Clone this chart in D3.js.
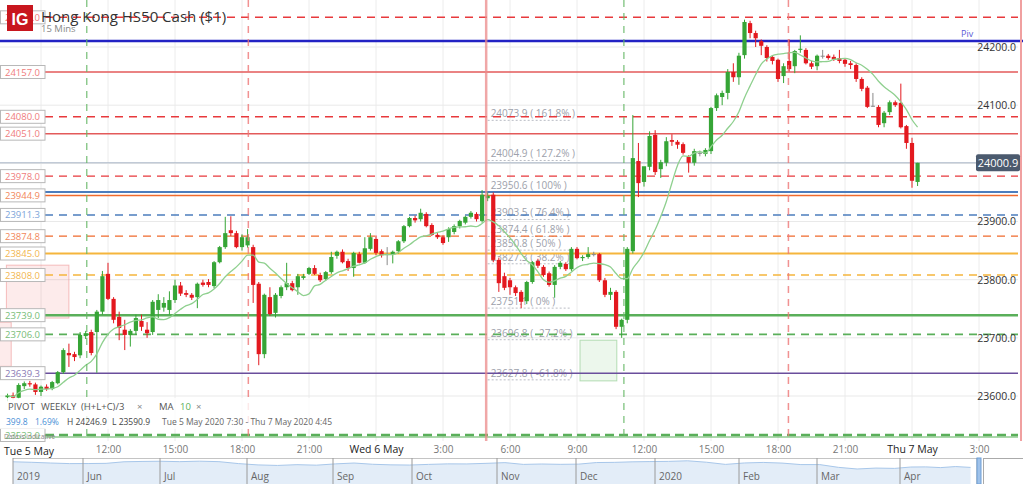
<!DOCTYPE html>
<html>
<head>
<meta charset="utf-8">
<script src="https://cdn.jsdelivr.net/npm/d3@7/dist/d3.min.js"></script>
<style>
  body { margin: 0; background: #fff; font-family: "Open Sans", "Noto Sans", sans-serif; }
  svg { display: block; }
</style>
</head>
<body>
<svg id="chart" width="1023" height="484"></svg>
<script>
// first 15 min bar of the view
var firstBar = new Date(2020, 4, 5, 7, 30);
var barMinutes = 15;

// open, high, low, close for each 15 min bar
var ohlc = [
  [23598,23604,23591,23601],[23601,23606,23594,23597],[23597,23622,23595,23619],[23617,23625,23612,23622],
  [23622,23626,23616,23620],[23620,23623,23602,23607],[23607,23618,23600,23616],[23616,23620,23609,23612],
  [23612,23626,23610,23624],[23622,23643,23620,23641],[23641,23682,23638,23679],[23674,23690,23650,23670],
  [23672,23676,23660,23667],[23670,23710,23665,23705],[23703,23712,23698,23708],[23710,23714,23670,23674],
  [23710,23748,23640,23745],[23745,23815,23740,23806],[23810,23829,23765,23767],[23767,23770,23725,23731],
  [23736,23745,23696,23717],[23714,23731,23679,23705],[23705,23715,23685,23712],[23712,23740,23705,23734],
  [23729,23740,23712,23719],[23714,23727,23700,23708],[23710,23765,23705,23762],[23748,23775,23734,23765],
  [23752,23770,23745,23760],[23748,23780,23740,23765],[23765,23800,23760,23790],[23790,23796,23772,23776],
  [23777,23782,23770,23774],[23774,23777,23765,23769],[23770,23795,23751,23793],[23795,23800,23788,23791],
  [23796,23801,23787,23791],[23789,23832,23785,23830],[23830,23858,23828,23856],[23856,23908,23853,23880],
  [23885,23909,23875,23880],[23880,23884,23854,23856],[23856,23878,23850,23873],[23859,23887,23855,23873],
  [23856,23860,23760,23791],[23793,23796,23653,23672],[23672,23776,23665,23774],[23770,23787,23738,23741],
  [23743,23777,23735,23774],[23772,23790,23768,23787],[23787,23829,23782,23794],[23794,23798,23780,23782],
  [23787,23810,23774,23806],[23803,23810,23800,23806],[23810,23822,23808,23820],[23820,23825,23808,23810],
  [23808,23812,23796,23799],[23801,23815,23798,23813],[23813,23848,23810,23839],[23841,23850,23836,23848],
  [23848,23852,23828,23830],[23832,23836,23815,23820],[23820,23848,23805,23846],[23844,23848,23828,23829],
  [23829,23873,23827,23854],[23853,23880,23850,23873],[23870,23876,23842,23846],[23849,23852,23838,23842],
  [23844,23856,23825,23844],[23844,23850,23828,23848],[23849,23868,23845,23866],[23866,23894,23863,23892],
  [23892,23908,23890,23906],[23906,23910,23898,23902],[23904,23922,23900,23915],[23913,23916,23890,23892],
  [23894,23897,23875,23877],[23877,23880,23870,23873],[23873,23876,23860,23863],[23873,23890,23865,23887],
  [23882,23895,23878,23892],[23892,23903,23888,23901],[23898,23910,23895,23908],[23908,23918,23905,23915],
  [23913,23916,23900,23904],[23901,23954,23898,23946],[23940,23950,23935,23944],[23946,23950,23830,23834],
  [23834,23838,23779,23794],[23806,23812,23782,23786],[23799,23803,23774,23787],[23787,23790,23772,23777],
  [23779,23782,23751,23762],[23763,23798,23758,23796],[23796,23832,23793,23830],[23832,23836,23820,23824],
  [23822,23825,23805,23808],[23811,23814,23788,23791],[23791,23825,23769,23822],[23822,23832,23818,23829],
  [23827,23830,23815,23818],[23818,23856,23815,23853],[23853,23856,23835,23837],[23837,23842,23832,23839],
  [23839,23856,23836,23844],[23844,23848,23840,23844],[23844,23846,23796,23799],[23799,23803,23770,23774],
  [23774,23786,23765,23779],[23779,23782,23715,23719],[23719,23733,23700,23731],[23731,23856,23725,23853],
  [23849,24083,23845,24009],[24004,24035,23942,23966],[23968,23985,23960,23995],[23994,24055,23988,24047],
  [24049,24057,23980,23985],[23990,24006,23975,24002],[24001,24045,23995,24038],[24040,24050,24030,24037],
  [24037,24040,24025,24032],[24033,24036,24015,24018],[24011,24014,23984,24001],[24001,24025,23996,24021],
  [24018,24022,24012,24018],[24016,24026,24012,24023],[24021,24097,24016,24095],[24095,24120,24090,24117],
  [24114,24125,24100,24121],[24121,24162,24110,24157],[24157,24172,24140,24148],[24148,24190,24135,24185],
  [24186,24247,24180,24243],[24241,24245,24215,24224],[24224,24228,24200,24215],[24210,24213,24186,24202],
  [24200,24203,24175,24181],[24183,24186,24170,24176],[24178,24180,24140,24145],[24150,24172,24138,24167],
  [24176,24213,24158,24162],[24167,24195,24155,24193],[24195,24220,24190,24197],[24195,24198,24170,24172],
  [24172,24176,24162,24166],[24167,24187,24160,24185],[24185,24195,24180,24185],[24185,24188,24178,24181],
  [24183,24187,24176,24179],[24181,24195,24172,24176],[24178,24180,24166,24171],[24172,24176,24162,24169],
  [24169,24172,24140,24145],[24145,24148,24124,24128],[24130,24133,24095,24097],[24099,24121,24097,24099],
  [24097,24100,24062,24066],[24069,24090,24062,24087],[24088,24108,24083,24105],[24105,24108,24097,24100],
  [24104,24137,24060,24062],[24064,24066,24025,24035],[24035,24044,23958,23970],[23968,24001,23961,24000.9]
];
var maPeriod = 10;

// support / resistance levels drawn across the chart
var levelValues = [24251.0, 24157.0, 24080.0, 24051.0, 23978.0, 23950.6, 23944.9, 23911.3,
                   23874.8, 23845.0, 23808.0, 23739.0, 23706.0, 23639.3, 23533.0];
var levelLabels = ['24251.0', '24157.0', '24080.0', '24051.0', '23978.0', '', '23944.9', '23911.3',
                   '23874.8', '23845.0', '23808.0', '23739.0', '23706.0', '23639.3', '23533.0'];
var pivotValue = 24210.3;
var lastPrice = 24000.9;

// fibonacci retracement
var fibValues = [24073.9, 24004.9, 23950.6, 23903.5, 23874.4, 23850.8, 23827.3, 23751.1, 23696.8, 23627.8];
var fibPercents = ['161.8%', '127.2%', '100%', '76.4%', '61.8%', '50%', '38.2%', '0%', '-27.2%', '-61.8%'];
var fibFrom = new Date(2020, 4, 6, 5, 0);
var fibTo = new Date(2020, 4, 6, 8, 45);

// shaded boxes [start, end, top price, bottom price]
var redZones = [
  [new Date(2020, 4, 5, 7, 27), new Date(2020, 4, 5, 10, 15), 23825, 23734],
  [new Date(2020, 4, 5, 7, 0), new Date(2020, 4, 5, 7, 40), 23727, 23651]
];
var greenZones = [
  [new Date(2020, 4, 6, 9, 8), new Date(2020, 4, 6, 10, 47), 23696, 23626]
];

// vertical markers
var greenMarks = [new Date(2020, 4, 5, 11, 3), new Date(2020, 4, 6, 11, 6)];
var redDashMarks = [new Date(2020, 4, 5, 18, 17), new Date(2020, 4, 6, 18, 28)];
var redSolidMarks = [new Date(2020, 4, 6, 4, 56)];

var yTicks = [23600, 23700, 23800, 23900, 24000, 24100, 24200];
var xTickTimes = [
  new Date(2020, 4, 5, 12), new Date(2020, 4, 5, 15), new Date(2020, 4, 5, 18), new Date(2020, 4, 5, 21),
  new Date(2020, 4, 6, 0), new Date(2020, 4, 6, 3), new Date(2020, 4, 6, 6), new Date(2020, 4, 6, 9),
  new Date(2020, 4, 6, 12), new Date(2020, 4, 6, 15), new Date(2020, 4, 6, 18), new Date(2020, 4, 6, 21),
  new Date(2020, 4, 7, 0), new Date(2020, 4, 7, 3)
];
var xTickLabels = ['12:00', '15:00', '18:00', '21:00', 'Wed 6 May', '3:00', '6:00', '9:00',
                   '12:00', '15:00', '18:00', '21:00', 'Thu 7 May', '3:00'];
var firstDayLabel = 'Tue 5 May';

// navigator: weekly closes, one year back
var navStart = new Date(2019, 4, 6);
var navValues = [28300, 27900, 27350, 26900, 26950, 27100, 28300, 28550, 28700, 28400, 28750, 28400,
                 26900, 25900, 25500, 26100, 25700, 26700, 27350, 26400, 25950, 25800, 26300, 26700,
                 26650, 27100, 27650, 26300, 26600, 26350, 26500, 27700, 27850, 28250, 28450, 28600,
                 29050, 27950, 26300, 27400, 27800, 27300, 26150, 26150, 24050, 22800, 23500, 23250,
                 24300, 24400, 23850, 24650, 24000];
var navMonths = [new Date(2019, 4, 6), new Date(2019, 5, 1), new Date(2019, 6, 1), new Date(2019, 7, 1),
                 new Date(2019, 8, 1), new Date(2019, 9, 1), new Date(2019, 10, 1), new Date(2019, 11, 1),
                 new Date(2020, 0, 1), new Date(2020, 1, 1), new Date(2020, 2, 1), new Date(2020, 3, 1),
                 new Date(2020, 4, 7)];
var navMonthLabels = ['2019', 'Jun', 'Jul', 'Aug', 'Sep', 'Oct', 'Nov', 'Dec', '2020', 'Feb', 'Mar', 'Apr'];

var UP = '#36a536', DOWN = '#e3191f', FLAT = '#8a8a8a';
var RED = '#e8393c', RED_SOLID = '#e35a5a', BLUE = '#4c7dbd', ORANGE = '#f06a2c',
    YEL = '#f5b53c', GREEN = '#5aaf5a', PURPLE = '#6a4e9c';
// stroke, dash, width, label text colour for each level
var levelStyle = [
  [RED, '8,6', 1.4, '#ef7c7c'], [RED_SOLID, null, 1.5, '#ef7c7c'], [RED, '8,6', 1.4, '#ef7c7c'],
  [RED_SOLID, null, 1.5, '#ef7c7c'], [RED, '8,6', 1.4, '#ef7c7c'], [BLUE, null, 2, '#7ba3d8'],
  [ORANGE, null, 1.5, '#f2875a'], [BLUE, '8,6', 1.4, '#7ba3d8'], [ORANGE, '8,6', 1.4, '#f2875a'],
  [YEL, null, 2, '#f2b650'], [YEL, '8,6', 1.6, '#f2b650'], [GREEN, null, 2.5, '#78bd78'],
  [GREEN, '8,6', 1.6, '#78bd78'], [PURPLE, null, 1.5, '#8a7ab4'], [GREEN, '9,5', 2.6, '#78bd78']
];

var plotTop = 0, plotBottom = 441;
var svg = d3.select('#chart');

var xScale = d3.scaleTime()
  .domain([new Date(2020, 4, 5, 12), new Date(2020, 4, 7, 0)])
  .range([108, 912]);
var yScale = d3.scaleLinear()
  .domain([23533, 24157])
  .range([435, 72]);

var bars = ohlc.map(function(d, i) {
  return { t: new Date(firstBar.getTime() + i * barMinutes * 60000), o: d[0], h: d[1], l: d[2], c: d[3] };
});
bars.forEach(function(b, i) {
  b.ma = d3.mean(bars.slice(Math.max(0, i - maPeriod + 1), i + 1), function(r) { return r.c; });
});

// grid
var gridTimes = d3.timeHour.every(3).range(new Date(2020, 4, 5, 9), new Date(2020, 4, 7, 4));
svg.append('g').selectAll('line').data(gridTimes).enter().append('line')
  .attr('x1', function(d) { return xScale(d); }).attr('x2', function(d) { return xScale(d); })
  .attr('y1', plotTop).attr('y2', plotBottom)
  .attr('stroke', '#ececec').attr('stroke-width', 1);
svg.append('g').selectAll('line').data(yTicks).enter().append('line')
  .attr('x1', 0).attr('x2', 1018)
  .attr('y1', function(d) { return yScale(d); }).attr('y2', function(d) { return yScale(d); })
  .attr('stroke', '#e9e9e9').attr('stroke-width', 1);

// shaded boxes
function drawZones(list, fill, stroke) {
  svg.append('g').selectAll('rect').data(list).enter().append('rect')
    .attr('x', function(d) { return xScale(d[0]); })
    .attr('width', function(d) { return xScale(d[1]) - xScale(d[0]); })
    .attr('y', function(d) { return yScale(d[2]); })
    .attr('height', function(d) { return yScale(d[3]) - yScale(d[2]); })
    .attr('fill', fill).attr('stroke', stroke).attr('stroke-width', 1);
}
drawZones(redZones, 'rgba(240,110,110,0.14)', 'rgba(235,120,120,0.45)');
drawZones(greenZones, 'rgba(110,190,110,0.13)', 'rgba(100,185,100,0.45)');

// last price line
svg.append('line')
  .attr('x1', 0).attr('x2', 1018)
  .attr('y1', yScale(lastPrice)).attr('y2', yScale(lastPrice))
  .attr('stroke', '#a9b5c6').attr('stroke-width', 1);

// fib levels
var fibG = svg.append('g');
fibG.selectAll('line').data(fibValues).enter().append('line')
  .attr('x1', xScale(fibFrom)).attr('x2', xScale(fibTo))
  .attr('y1', function(d) { return yScale(d); }).attr('y2', function(d) { return yScale(d); })
  .attr('stroke', '#b9bcc4').attr('stroke-width', 1).attr('stroke-dasharray', '2,2');
fibG.selectAll('text').data(fibValues).enter().append('text')
  .attr('x', xScale(fibFrom) + 3)
  .attr('y', function(d) { return yScale(d) - 3; })
  .attr('font-size', '10px').attr('fill', '#9da1ab')
  .text(function(d, i) { return d.toFixed(1) + ' ( ' + fibPercents[i] + ' )'; });

// level lines
var levelG = svg.append('g');
levelG.selectAll('line').data(levelValues).enter().append('line')
  .attr('x1', 45).attr('x2', 1018)
  .attr('y1', function(d) { return yScale(d); }).attr('y2', function(d) { return yScale(d); })
  .attr('stroke', function(d, i) { return levelStyle[i][0]; })
  .attr('stroke-width', function(d, i) { return levelStyle[i][2]; })
  .attr('stroke-dasharray', function(d, i) { return levelStyle[i][1]; });
// thin solid line under the lowest dashed level
svg.append('line')
  .attr('x1', 45).attr('x2', 1018)
  .attr('y1', yScale(23533) + 2).attr('y2', yScale(23533) + 2)
  .attr('stroke', GREEN).attr('stroke-width', 1);

// pivot
svg.append('line')
  .attr('x1', 0).attr('x2', 1023)
  .attr('y1', yScale(pivotValue)).attr('y2', yScale(pivotValue))
  .attr('stroke', '#2222c4').attr('stroke-width', 2.5);
svg.append('text')
  .attr('x', 961).attr('y', yScale(pivotValue) - 4)
  .attr('font-size', '9px').attr('fill', '#5a5ad6')
  .text('Piv');

// candles
var candleG = svg.append('g');
function barColor(b) { return b.c > b.o ? UP : (b.c < b.o ? DOWN : FLAT); }
candleG.selectAll('line').data(bars).enter().append('line')
  .attr('x1', function(b) { return xScale(b.t); }).attr('x2', function(b) { return xScale(b.t); })
  .attr('y1', function(b) { return yScale(b.h); }).attr('y2', function(b) { return yScale(b.l); })
  .attr('stroke', barColor).attr('stroke-width', 1);
candleG.selectAll('rect').data(bars).enter().append('rect')
  .attr('x', function(b) { return xScale(b.t) - 2.1; })
  .attr('width', 4.2)
  .attr('y', function(b) { return yScale(Math.max(b.o, b.c)); })
  .attr('height', function(b) { return Math.max(1, Math.abs(yScale(b.o) - yScale(b.c))); })
  .attr('fill', barColor);

// moving average
svg.append('path')
  .datum(bars)
  .attr('fill', 'none').attr('stroke', '#8fd08f').attr('stroke-width', 1.3)
  .attr('d', d3.line()
    .x(function(b) { return xScale(b.t); })
    .y(function(b) { return yScale(b.ma); })
    .curve(d3.curveMonotoneX));

// vertical markers
function drawMarks(list, color, dash, width, opacity) {
  svg.append('g').selectAll('line').data(list).enter().append('line')
    .attr('x1', function(d) { return xScale(d); }).attr('x2', function(d) { return xScale(d); })
    .attr('y1', plotTop).attr('y2', plotBottom)
    .attr('stroke', color).attr('stroke-width', width)
    .attr('stroke-dasharray', dash).attr('opacity', opacity);
}
drawMarks(greenMarks, '#67b867', '7,6', 1.2, 0.9);
drawMarks(redDashMarks, '#ee7777', '7,6', 1.5, 0.8);
drawMarks(redSolidMarks, '#ec8a8a', null, 2.5, 0.75);
svg.append('line')
  .attr('x1', 1021).attr('x2', 1021).attr('y1', plotTop).attr('y2', plotBottom)
  .attr('stroke', '#f0a0a0').attr('stroke-width', 2);

// left level labels
var labelG = svg.append('g').selectAll('g')
  .data(levelValues.filter(function(d, i) { return levelLabels[i] !== ''; }))
  .enter().append('g')
  .attr('transform', function(d) { return 'translate(0,' + yScale(d) + ')'; });
labelG.append('rect')
  .attr('x', 0.5).attr('y', -6.5).attr('width', 44.5).attr('height', 13)
  .attr('fill', '#fff').attr('stroke', '#b8b8b8').attr('stroke-width', 1);
labelG.append('text')
  .attr('x', 22.5).attr('y', 3.5).attr('text-anchor', 'middle')
  .attr('font-size', '9.5px')
  .attr('fill', function(d) { return levelStyle[levelValues.indexOf(d)][3]; })
  .text(function(d) { return levelLabels[levelValues.indexOf(d)]; });

// y axis on the right (the 24000 label sits under the last price box)
var yAxis = d3.axisLeft(yScale).tickValues(yTicks.filter(function(v) { return Math.abs(v - lastPrice) > 20; }))
  .tickSize(0).tickPadding(0)
  .tickFormat(d3.format('.1f'));
var yAxisG = svg.append('g').attr('transform', 'translate(1016,0)').call(yAxis);
yAxisG.select('.domain').remove();
yAxisG.selectAll('text').attr('font-size', '10.5px').attr('fill', '#333')
  .attr('font-family', '"Open Sans", sans-serif');

// last price box
svg.append('rect')
  .attr('x', 976).attr('y', yScale(lastPrice) - 8.5).attr('width', 44).attr('height', 17)
  .attr('rx', 2).attr('fill', '#4b5a6e');
svg.append('text')
  .attr('x', 998).attr('y', yScale(lastPrice) + 4).attr('text-anchor', 'middle')
  .attr('font-size', '11px').attr('fill', '#fff')
  .text(lastPrice.toFixed(1));

// x axis
var xAxis = d3.axisBottom(xScale).tickValues(xTickTimes).tickSize(0).tickPadding(0)
  .tickFormat(function(d, i) { return xTickLabels[i]; });
var xAxisG = svg.append('g').attr('transform', 'translate(0,' + 446 + ')').call(xAxis);
xAxisG.select('.domain').remove();
xAxisG.selectAll('text')
  .attr('font-family', '"Open Sans", sans-serif')
  .attr('font-size', function(d, i) { return xTickLabels[i].length > 5 ? '10.5px' : '10px'; })
  .attr('fill', function(d, i) { return xTickLabels[i].length > 5 ? '#222' : '#777'; });
svg.append('text')
  .attr('x', 4).attr('y', 455)
  .attr('font-size', '10.5px').attr('fill', '#222')
  .text(firstDayLabel);

// legend
svg.append('rect').attr('x', 0).attr('y', 398).attr('width', 368).attr('height', 31)
  .attr('fill', '#fff').attr('opacity', 0.8);
var leg1 = svg.append('text').attr('y', 410).attr('font-size', '9.5px').attr('fill', '#555');
leg1.append('tspan').attr('x', 8).text('PIVOT');
leg1.append('tspan').attr('x', 41).text('WEEKLY');
leg1.append('tspan').attr('x', 81).text('(H+L+C)/3');
leg1.append('tspan').attr('x', 137).attr('fill', '#888').text('×');
leg1.append('tspan').attr('x', 159).text('MA');
leg1.append('tspan').attr('x', 180).attr('fill', '#5aaf5a').text('10');
leg1.append('tspan').attr('x', 196).attr('fill', '#888').text('×');
var leg2 = svg.append('text').attr('y', 425).attr('font-size', '8.5px').attr('fill', '#444');
leg2.append('tspan').attr('x', 6).attr('fill', '#4a8fd6').text('399.8');
leg2.append('tspan').attr('x', 35).attr('fill', '#4a8fd6').text('1.69%');
leg2.append('tspan').attr('x', 67).text('H 24246.9');
leg2.append('tspan').attr('x', 112).text('L 23590.9');
leg2.append('tspan').attr('x', 162).attr('fill', '#666').text('Tue 5 May 2020 7:30 - Thu 7 May 2020 4:45');
svg.append('text').attr('x', 4).attr('y', 439).attr('font-size', '6.5px').attr('fill', '#888')
  .text('Data is indicative');

// navigator
var navX = d3.scaleTime().domain(navMonths)
  .range([13, 83, 160, 247, 333, 412, 497, 576, 655, 739, 817, 900, 977]);
var navY = d3.scaleLinear().domain([11350, 29500]).range([484, 460.2]);
var navData = navValues.map(function(v, i) {
  return { t: new Date(navStart.getTime() + i * 7 * 86400000), v: v };
});
var navG = svg.append('g');
navG.append('path').datum(navData)
  .attr('fill', '#e3edf8')
  .attr('d', d3.area().x(function(d) { return navX(d.t); }).y0(484).y1(function(d) { return navY(d.v); }));
navG.append('path').datum(navData)
  .attr('fill', 'none').attr('stroke', '#a8c7ea').attr('stroke-width', 1)
  .attr('d', d3.line().x(function(d) { return navX(d.t); }).y(function(d) { return navY(d.v); }));
navG.append('line').attr('x1', 13).attr('x2', 977).attr('y1', 458.5).attr('y2', 458.5)
  .attr('stroke', '#c4c4c4');
navG.selectAll('line.sep').data(navMonths).enter().append('line').attr('class', 'sep')
  .attr('x1', function(d) { return navX(d); }).attr('x2', function(d) { return navX(d); })
  .attr('y1', 458).attr('y2', 484).attr('stroke', '#9a9a9a').attr('stroke-width', 1);
navG.selectAll('text').data(navMonthLabels).enter().append('text')
  .attr('x', function(d, i) { return navX(navMonths[i]) + 4; })
  .attr('y', 480).attr('font-size', '10px').attr('fill', '#666')
  .text(function(d) { return d; });
navG.append('rect').attr('x', 977).attr('y', 458).attr('width', 4).attr('height', 26)
  .attr('fill', '#9fc2ea').attr('stroke', '#6f9fd6');
navG.append('rect').attr('x', 983.5).attr('y', 458.5).attr('width', 40).attr('height', 26)
  .attr('fill', '#fff').attr('stroke', '#aaa');

// title and logo
var logo = svg.append('g');
logo.append('rect').attr('x', 7).attr('y', 5).attr('width', 26).attr('height', 26).attr('fill', '#c8161e');
logo.append('text').attr('x', 20).attr('y', 24.5).attr('text-anchor', 'middle')
  .attr('font-size', '16px').attr('font-weight', 'bold').attr('fill', '#fff')
  .attr('font-family', '"Liberation Sans", Arial, sans-serif').text('IG');
svg.append('text').attr('x', 41).attr('y', 21.5).attr('font-size', '15px').attr('fill', '#333')
  .text('Hong Kong HS50 Cash ($1)');
svg.append('text').attr('x', 41).attr('y', 31.5).attr('font-size', '9.5px').attr('fill', '#888')
  .text('15 Mins');
</script>
</body>
</html>
